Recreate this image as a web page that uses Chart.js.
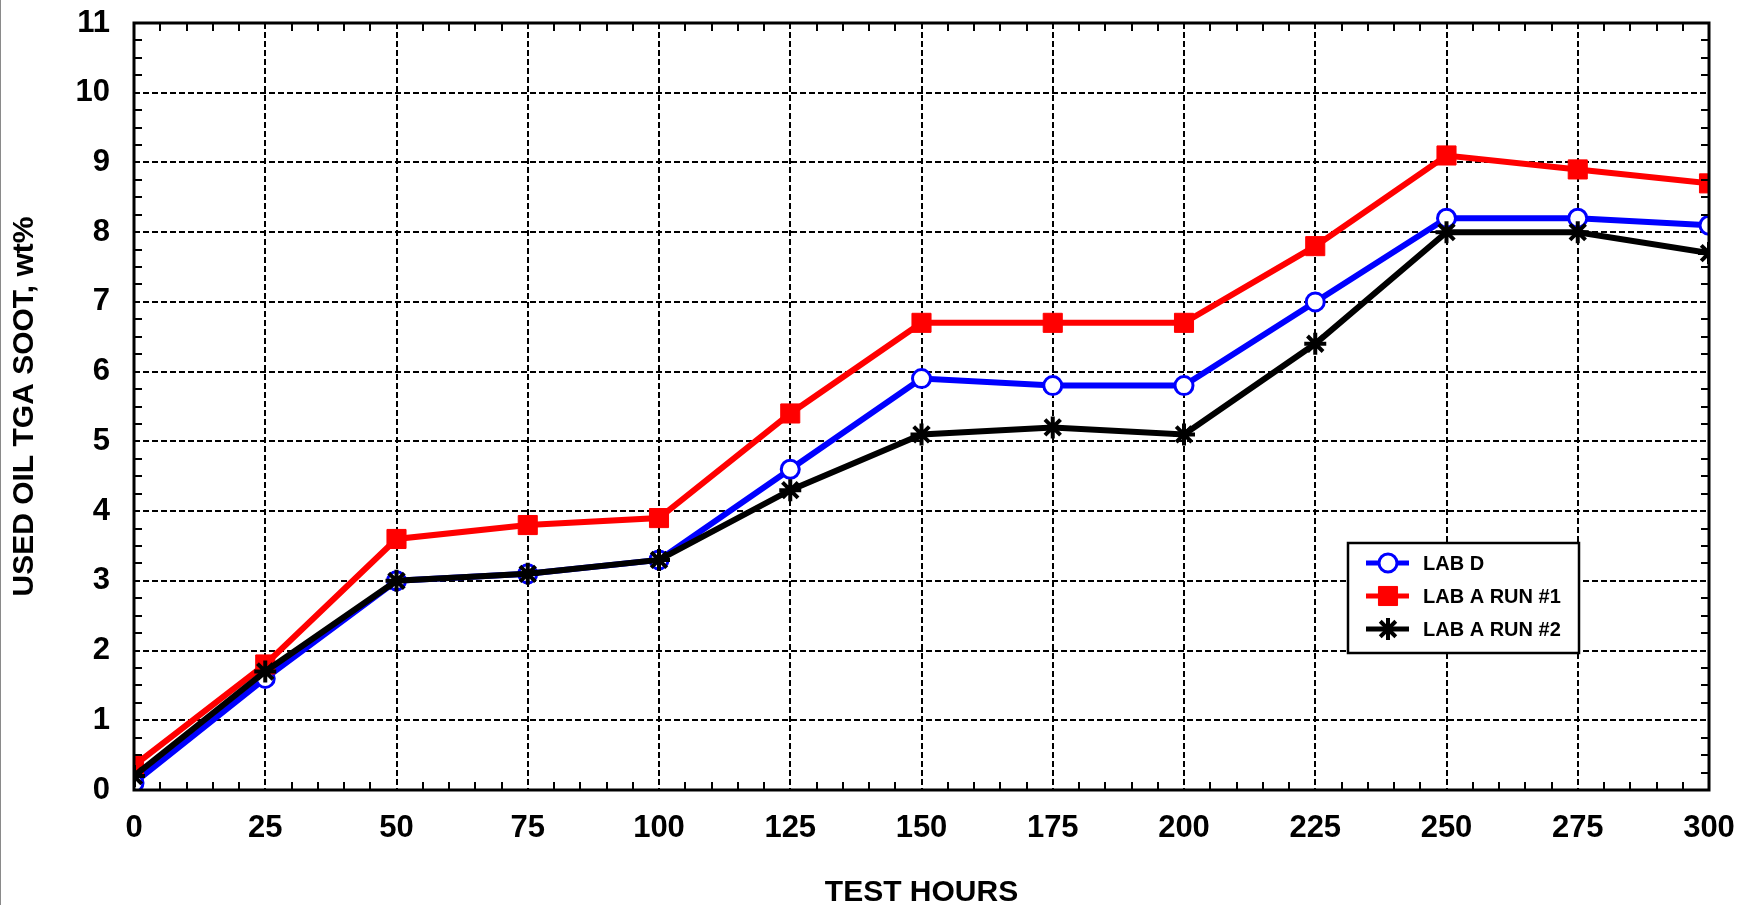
<!DOCTYPE html>
<html>
<head>
<meta charset="utf-8">
<script src="https://cdn.jsdelivr.net/npm/chart.js@4.4.1/dist/chart.umd.min.js"></script>
<style>
html, body { margin: 0; padding: 0; background: #fff; }
</style>
</head>
<body>
<canvas id="sootChart" width="1739" height="905"></canvas>
<script>
// values
const testHours = [0, 25, 50, 75, 100, 125, 150, 175, 200, 225, 250, 275, 300];
const labD = [0.1, 1.6, 3.0, 3.1, 3.3, 4.6, 5.9, 5.8, 5.8, 7.0, 8.2, 8.2, 8.1];
const labARun1 = [0.35, 1.8, 3.6, 3.8, 3.9, 5.4, 6.7, 6.7, 6.7, 7.8, 9.1, 8.9, 8.7];
const labARun2 = [0.2, 1.7, 3.0, 3.1, 3.3, 4.3, 5.1, 5.2, 5.1, 6.4, 8.0, 8.0, 7.7];

const xTickValues = [0, 25, 50, 75, 100, 125, 150, 175, 200, 225, 250, 275, 300];
const yTickValues = [0, 1, 2, 3, 4, 5, 6, 7, 8, 9, 10, 11];

const FONT = "'Liberation Sans', Arial, Helvetica, sans-serif";

function toPoints(ys) {
    return testHours.map((x, i) => ({ x: x, y: ys[i] }));
}

function gridColor(values) {
    return ctx => {
        const v = ctx.tick ? ctx.tick.value : null;
        if (v === values[0] || v === values[values.length - 1]) return "rgba(0,0,0,0)";
        return "#000";
    };
}

// frame + minor ticks pointing inward
const framePlugin = {
    id: "frame",
    afterDatasetsDraw(chart) {
        const { ctx, chartArea: a, scales } = chart;
        ctx.save();
        ctx.strokeStyle = "#000";
        ctx.lineWidth = 2;
        ctx.setLineDash([]);
        ctx.beginPath();
        for (let v = 5; v < 300; v += 5) {
            if (v % 25 === 0) continue;
            const px = Math.round(scales.x.getPixelForValue(v));
            ctx.moveTo(px, a.bottom);
            ctx.lineTo(px, a.bottom - 8);
            ctx.moveTo(px, a.top);
            ctx.lineTo(px, a.top + 8);
        }
        for (let v = 0.25; v < 11; v += 0.25) {
            if (Math.abs(v - Math.round(v)) < 0.01) continue;
            const py = Math.round(scales.y.getPixelForValue(v));
            ctx.moveTo(a.left, py);
            ctx.lineTo(a.left + 8, py);
            ctx.moveTo(a.right, py);
            ctx.lineTo(a.right - 8, py);
        }
        ctx.stroke();
        ctx.lineWidth = 3;
        ctx.strokeRect(a.left, a.top, a.right - a.left, a.bottom - a.top);
        // thin grey edge at the far left of the image
        ctx.fillStyle = "#8a8a8a";
        ctx.fillRect(0, 0, 1, chart.height);
        ctx.restore();
    }
};

// boxed legend inside the plot, lower right
const boxLegend = {
    id: "boxLegend",
    afterDraw(chart) {
        const { ctx, chartArea: a } = chart;
        const bx = a.right - 361, by = a.top + 520, bw = 231, bh = 110;
        ctx.save();
        ctx.fillStyle = "#fff";
        ctx.fillRect(bx, by, bw, bh);
        ctx.strokeStyle = "#000";
        ctx.lineWidth = 2.5;
        ctx.setLineDash([]);
        ctx.strokeRect(bx, by, bw, bh);
        chart.data.datasets.forEach((ds, i) => {
            const y = by + 20 + i * 33;
            ctx.strokeStyle = ds.borderColor;
            ctx.lineWidth = 5;
            ctx.beginPath();
            ctx.moveTo(bx + 18, y);
            ctx.lineTo(bx + 61, y);
            ctx.stroke();
            ctx.fillStyle = ds.pointBackgroundColor;
            ctx.strokeStyle = ds.pointBorderColor;
            ctx.lineWidth = ds.pointBorderWidth;
            Chart.helpers.drawPoint(ctx, {
                pointStyle: ds.pointStyle,
                radius: ds.pointRadius,
                borderWidth: ds.pointBorderWidth,
                rotation: 0
            }, bx + 40, y);
            ctx.fillStyle = "#000";
            ctx.font = "bold 20px " + FONT;
            ctx.textBaseline = "middle";
            ctx.textAlign = "left";
            ctx.fillText(ds.label, bx + 75, y + 1);
        });
        ctx.restore();
    }
};

const tickFont = { family: FONT, size: 31, weight: "bold" };

new Chart(document.getElementById("sootChart").getContext("2d"), {
    type: "line",
    data: {
        datasets: [
            {
                label: "LAB D",
                data: toPoints(labD),
                borderColor: "#0000ff",
                borderWidth: 6,
                pointStyle: "circle",
                pointRadius: 9,
                pointBorderWidth: 3,
                pointBorderColor: "#0000ff",
                pointBackgroundColor: "#ffffff",
                clip: 0,
                order: 3
            },
            {
                label: "LAB A RUN #1",
                data: toPoints(labARun1),
                borderColor: "#ff0000",
                borderWidth: 6,
                pointStyle: "rect",
                pointRadius: 13.5,
                pointBorderWidth: 1,
                pointBorderColor: "#ff0000",
                pointBackgroundColor: "#ff0000",
                clip: 0,
                order: 2
            },
            {
                label: "LAB A RUN #2",
                data: toPoints(labARun2),
                borderColor: "#000000",
                borderWidth: 6,
                pointStyle: "star",
                pointRadius: 11,
                pointBorderWidth: 4,
                pointBorderColor: "#000000",
                pointBackgroundColor: "#000000",
                clip: 0,
                order: 1
            }
        ]
    },
    options: {
        responsive: false,
        animation: false,
        layout: { padding: { left: 0, top: 23, right: 30, bottom: 0 } },
        plugins: {
            legend: { display: false },
            tooltip: { enabled: false }
        },
        scales: {
            x: {
                type: "linear",
                min: 0,
                max: 300,
                afterBuildTicks: s => { s.ticks = xTickValues.map(v => ({ value: v })); },
                afterFit: s => { s.height = 115; s.paddingLeft = 0; s.paddingRight = 0; },
                ticks: { font: tickFont, color: "#000", padding: 20, maxRotation: 0, autoSkip: false },
                grid: { color: gridColor(xTickValues), lineWidth: 2, drawTicks: false },
                border: { display: false, dash: [6, 3] },
                title: {
                    display: true,
                    text: "TEST HOURS",
                    color: "#000",
                    font: { family: FONT, size: 30, weight: "bold", lineHeight: 0.85 },
                    padding: { top: 0, bottom: 0 }
                }
            },
            y: {
                type: "linear",
                min: 0,
                max: 11,
                afterBuildTicks: s => { s.ticks = yTickValues.map(v => ({ value: v })); },
                afterFit: s => { s.width = 134; s.paddingTop = 0; s.paddingBottom = 0; },
                ticks: { font: tickFont, color: "#000", padding: 24, autoSkip: false },
                grid: { color: gridColor(yTickValues), lineWidth: 2, drawTicks: false },
                border: { display: false, dash: [6, 3] },
                title: {
                    display: true,
                    text: "USED OIL TGA SOOT, wt%",
                    color: "#000",
                    font: { family: FONT, size: 30, weight: "bold", lineHeight: 1.2 },
                    padding: { top: 7, bottom: 0 }
                }
            }
        }
    },
    plugins: [framePlugin, boxLegend]
});
</script>
</body>
</html>
